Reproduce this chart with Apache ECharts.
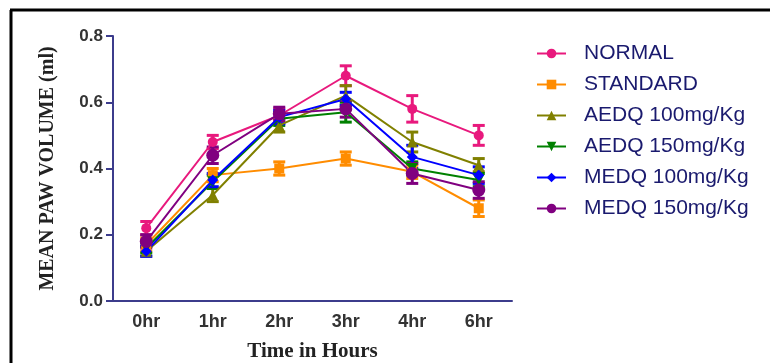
<!DOCTYPE html>
<html><head><meta charset="utf-8">
<script src="https://cdn.jsdelivr.net/npm/echarts@6/dist/echarts.min.js"></script>
<style>html,body{margin:0;padding:0;background:#fff}#c{width:770px;height:363px}</style>
</head><body><div id="c"></div>
<script>
const categories = ['0hr','1hr','2hr','3hr','4hr','6hr'];
const seriesNames = ['NORMAL','STANDARD','AEDQ 100mg/Kg','AEDQ 150mg/Kg','MEDQ 100mg/Kg','MEDQ 150mg/Kg'];
const normal    = [0.22, 0.48, 0.56, 0.68, 0.58, 0.50];
const standard  = [0.17, 0.38, 0.40, 0.43, 0.39, 0.28];
const aedq100   = [0.15, 0.32, 0.53, 0.62, 0.48, 0.41];
const aedq150   = [0.16, 0.36, 0.55, 0.57, 0.40, 0.365];
const medq100   = [0.15, 0.365, 0.555, 0.61, 0.435, 0.38];
const medq150   = [0.18, 0.44, 0.565, 0.58, 0.385, 0.335];
const normalErr   = [0.02, 0.02, 0.02, 0.03, 0.04, 0.03];
const standardErr = [0.02, 0.02, 0.02, 0.02, 0.02, 0.025];
const aedq100Err  = [0.015, 0.02, 0.02, 0.03, 0.03, 0.02];
const aedq150Err  = [0.015, 0.02, 0.02, 0.03, 0.02, 0.02];
const medq100Err  = [0.015, 0.02, 0.02, 0.02, 0.035, 0.025];
const medq150Err  = [0.02, 0.025, 0.02, 0.025, 0.03, 0.025];
const yTicks = [0.0, 0.2, 0.4, 0.6, 0.8];

const values = [normal, standard, aedq100, aedq150, medq100, medq150];
const errs = [normalErr, standardErr, aedq100Err, aedq150Err, medq100Err, medq150Err];
const colors = ['#e8197d', '#ff8c00', '#808000', '#008000', '#0000ff', '#800080'];
const symbols = ['circle', 'rect', 'triangle', 'path://M0,0 L10,0 L5,9 Z', 'diamond', 'circle'];
const symbolSizes = [10, 10, 11, 11, 11, 13];

const chart = echarts.init(document.getElementById('c'), null, {renderer: 'canvas'});
const series = [];
values.forEach((vals, i) => {
  series.push({
    type: 'custom',
    name: seriesNames[i] + ' err',
    data: vals.map((v, j) => [j, v - errs[i][j], v + errs[i][j]]),
    encode: {x: 0, y: [1, 2]},
    z: 2,
    silent: true,
    renderItem: function (params, api) {
      const lo = api.coord([api.value(0), api.value(1)]);
      const hi = api.coord([api.value(0), api.value(2)]);
      const hw = 6;
      const st = {stroke: colors[i], lineWidth: 3};
      return {type: 'group', children: [
        {type: 'line', shape: {x1: lo[0], y1: lo[1], x2: hi[0], y2: hi[1]}, style: st},
        {type: 'line', shape: {x1: lo[0]-hw, y1: lo[1], x2: lo[0]+hw, y2: lo[1]}, style: st},
        {type: 'line', shape: {x1: hi[0]-hw, y1: hi[1], x2: hi[0]+hw, y2: hi[1]}, style: st}
      ]};
    }
  });
  series.push({
    type: 'line',
    name: seriesNames[i],
    data: vals,
    symbol: symbols[i],
    symbolSize: symbolSizes[i],
    showAllSymbol: true,
    z: 3,
    lineStyle: {color: colors[i], width: 2},
    itemStyle: {color: colors[i]},
    emphasis: {disabled: true}
  });
});

chart.setOption({
  animation: false,
  backgroundColor: '#fff',
  grid: {left: 113, right: 258, top: 36, bottom: 62, containLabel: false, outerBoundsMode: 'none'},
  legend: {
    data: seriesNames,
    orient: 'vertical',
    left: 531,
    top: 38,
    itemWidth: 29,
    itemHeight: 12,
    itemGap: 10,
    textStyle: {fontFamily: 'Arial, Liberation Sans', fontSize: 21, color: '#1a1a6e', padding: [0, 0, 0, 13]}
  },
  xAxis: {
    type: 'category',
    data: categories,
    boundaryGap: true,
    name: 'Time in Hours',
    nameLocation: 'middle',
    nameGap: 40,
    nameTextStyle: {fontFamily: 'Times New Roman, Liberation Serif', fontWeight: 'bold', fontSize: 21, color: '#222'},
    axisLine: {lineStyle: {color: '#3c3c8c', width: 2}},
    axisTick: {alignWithLabel: true, length: 6, lineStyle: {color: '#3c3c8c', width: 2}},
    axisLabel: {fontFamily: 'Arial, Liberation Sans', fontWeight: 'bold', fontSize: 18, color: '#333', margin: 12},
    splitLine: {show: false}
  },
  yAxis: {
    type: 'value',
    min: yTicks[0],
    max: yTicks[yTicks.length - 1],
    interval: 0.2,
    name: 'MEAN PAW VOLUME (ml)',
    nameLocation: 'middle',
    nameGap: 55,
    nameTextStyle: {fontFamily: 'Times New Roman, Liberation Serif', fontWeight: 'bold', fontSize: 20, color: '#222'},
    axisLine: {show: true, lineStyle: {color: '#3c3c8c', width: 2}},
    axisTick: {show: true, length: 7, lineStyle: {color: '#3c3c8c', width: 2}},
    axisLabel: {fontFamily: 'Arial, Liberation Sans', fontWeight: 'bold', fontSize: 17, color: '#333', margin: 10,
      formatter: v => v.toFixed(1)},
    splitLine: {show: false}
  },
  graphic: [
    {type: 'line', shape: {x1: 10, y1: 10, x2: 770, y2: 10}, style: {stroke: '#000', lineWidth: 3}},
    {type: 'line', shape: {x1: 11, y1: 10, x2: 11, y2: 363}, style: {stroke: '#000', lineWidth: 3}}
  ],
  series: series
});
</script></body></html>
